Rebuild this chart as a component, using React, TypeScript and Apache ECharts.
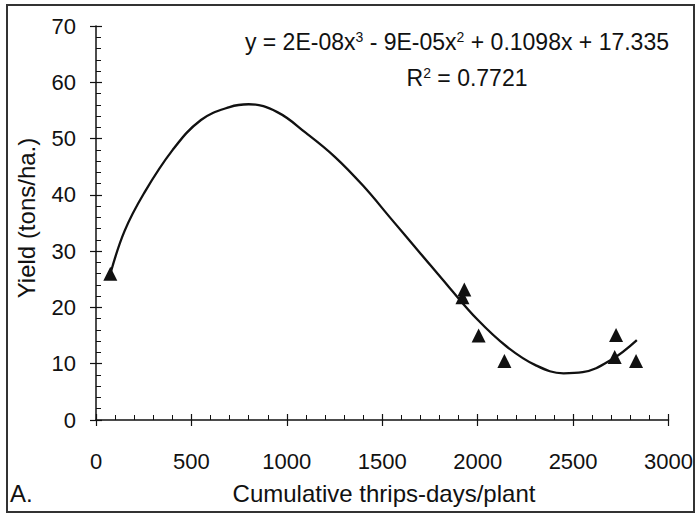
import React, { useEffect, useRef } from "react";
import * as echarts from "echarts";

// Observed points (cumulative thrips-days/plant, yield tons/ha)
const pointX = [75, 1930, 1920, 2005, 2140, 2725, 2718, 2830];
const pointY = [26, 23.2, 21.8, 15, 10.5, 15.1, 11.2, 10.5];

// Trendline
const curveX = [78, 150, 250, 400, 550, 700, 800, 950, 1100, 1250, 1400, 1550, 1700, 1850, 2000, 2150, 2300, 2450, 2550, 2700, 2834];
const curveY = [26.3, 33.6, 40.2, 47.9, 53.3, 55.6, 56.1, 54.7, 51.0, 46.8, 41.6, 35.6, 29.6, 23.6, 17.8, 13.1, 9.8, 8.3, 8.5, 10.7, 14.2];

const xTicks = { min: 0, max: 3000, interval: 500 };
const yTicks = { min: 0, max: 70, interval: 10 };

const equationParts = ["y = 2E-08x", "3", " - 9E-05x", "2", " + 0.1098x + 17.335"];
const rSquared = ["R", "2", " = 0.7721"];
const xTitle = "Cumulative thrips-days/plant";
const yTitle = "Yield (tons/ha.)";
const panelLabel = "A.";

const FONT = "'Liberation Sans', Arial, Helvetica, sans-serif";
const INK = "#111";

export default function App() {
  const ref = useRef<HTMLDivElement>(null);
  useEffect(() => {
    if (!ref.current) return;
    const chart = echarts.init(ref.current, null, { renderer: "svg" });
    const tickLine = { color: INK, width: 1.2 };
    const xBase = { type: "value", ...xTicks, gridIndex: 0, position: "bottom", splitLine: { show: false } };
    const yBase = { type: "value", ...yTicks, gridIndex: 0, position: "left", splitLine: { show: false } };
    const rich = { sup: { fontSize: 14, fontFamily: FONT, fill: INK, verticalAlign: "top", lineHeight: 24 } };
    chart.setOption({
      animation: false,
      backgroundColor: "#fff",
      grid: { left: 96, top: 26, width: 575, height: 394, containLabel: false },
      xAxis: [
        {
          ...xBase,
          axisLine: { show: true, onZero: false, lineStyle: { color: INK, width: 1.5 } },
          axisTick: { show: true, inside: true, length: 6, lineStyle: tickLine },
          minorTick: { show: true, splitNumber: 5, length: 5, lineStyle: { color: INK, width: 1 } },
          axisLabel: { margin: 30, fontSize: 22, color: INK, fontFamily: FONT, formatter: (v: number) => String(v) },
        },
        {
          ...xBase,
          axisLine: { show: false },
          axisTick: { show: true, inside: false, length: 6, lineStyle: tickLine },
          axisLabel: { show: false },
        },
      ],
      yAxis: [
        {
          ...yBase,
          axisLine: { show: true, onZero: false, lineStyle: { color: INK, width: 1.5 } },
          axisTick: { show: true, inside: true, length: 6, lineStyle: tickLine },
          minorTick: { show: true, splitNumber: 5, length: 5, lineStyle: { color: INK, width: 1 } },
          axisLabel: { margin: 20, fontSize: 22, color: INK, fontFamily: FONT, formatter: (v: number) => String(v) },
        },
        {
          ...yBase,
          axisLine: { show: false },
          axisTick: { show: true, inside: false, length: 6, lineStyle: tickLine },
          axisLabel: { show: false },
        },
      ],
      series: [
        {
          type: "line",
          xAxisIndex: 0,
          yAxisIndex: 0,
          data: curveX.map((x, i) => [x, curveY[i]]),
          smooth: 0.4,
          showSymbol: false,
          lineStyle: { color: INK, width: 2.3 },
          z: 2,
        },
        {
          type: "scatter",
          xAxisIndex: 0,
          yAxisIndex: 0,
          data: pointX.map((x, i) => [x, pointY[i]]),
          symbol: "triangle",
          symbolSize: 14,
          itemStyle: { color: INK, opacity: 1 },
          z: 3,
        },
      ],
      graphic: [
        {
          type: "rect",
          shape: { x: 7, y: 5, width: 687, height: 507 },
          style: { fill: "none", stroke: "#333", lineWidth: 2 },
          silent: true,
        },
        {
          type: "text",
          x: 669,
          y: 42,
          style: {
            text: `${equationParts[0]}{sup|${equationParts[1]}}${equationParts[2]}{sup|${equationParts[3]}}${equationParts[4]}`,
            fontSize: 23,
            fontFamily: FONT,
            fill: INK,
            textAlign: "right",
            textVerticalAlign: "middle",
            lineHeight: 24,
            rich,
          },
        },
        {
          type: "text",
          x: 467,
          y: 78,
          style: {
            text: `${rSquared[0]}{sup|${rSquared[1]}}${rSquared[2]}`,
            fontSize: 23,
            fontFamily: FONT,
            fill: INK,
            textAlign: "center",
            textVerticalAlign: "middle",
            lineHeight: 24,
            rich,
          },
        },
        {
          type: "text",
          x: 384,
          y: 493,
          style: { text: xTitle, fontSize: 24, fontFamily: FONT, fill: INK, textAlign: "center", textVerticalAlign: "middle" },
        },
        {
          type: "text",
          x: 26,
          y: 218,
          rotation: Math.PI / 2,
          style: { text: yTitle, fontSize: 24, fontFamily: FONT, fill: INK, textAlign: "center", textVerticalAlign: "middle" },
        },
        {
          type: "text",
          x: 10,
          y: 493,
          style: { text: panelLabel, fontSize: 24, fontFamily: FONT, fill: INK, textAlign: "left", textVerticalAlign: "middle" },
        },
      ],
    });
    return () => chart.dispose();
  }, []);
  return <div ref={ref} style={{ position: "fixed", left: 0, top: 0, width: 696, height: 515 }} />;
}
